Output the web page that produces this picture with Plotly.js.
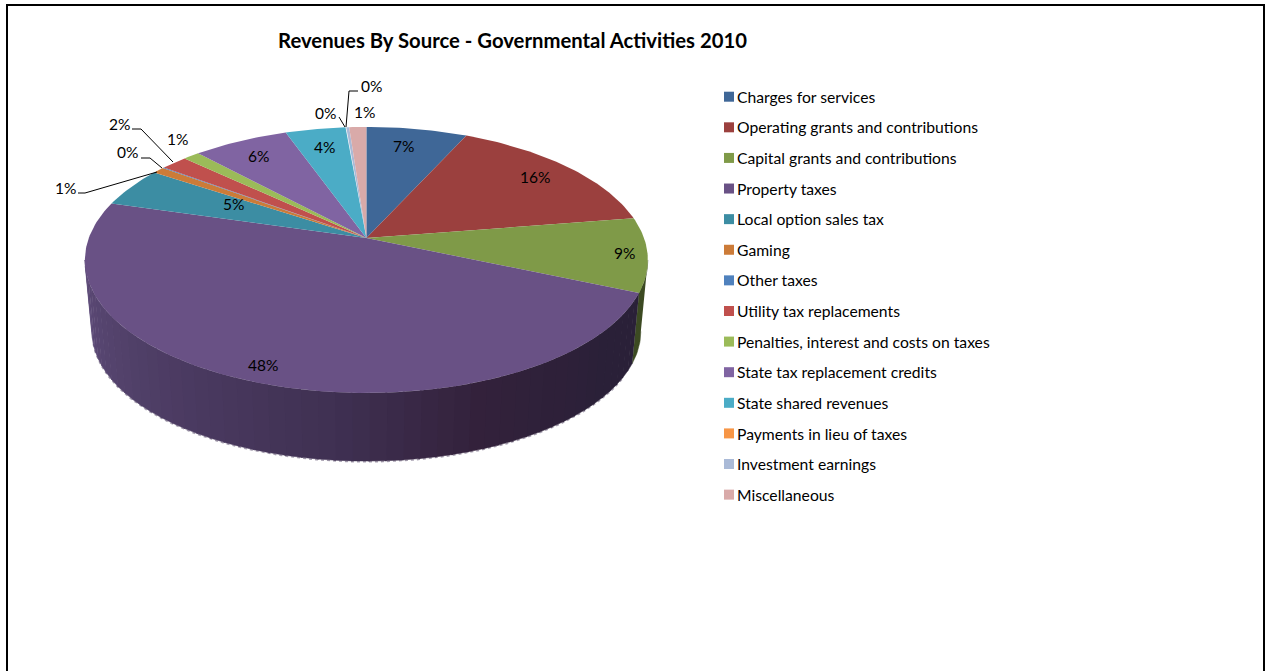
<!DOCTYPE html>
<html><head><meta charset="utf-8">
<script src="https://cdn.plot.ly/plotly-3.0.1.min.js"></script>
<style>html,body{margin:0;padding:0;background:#fff}#c{width:1265px;height:671px}</style>
</head><body><div id="c"></div>
<script>
const categories = ["Charges for services","Operating grants and contributions","Capital grants and contributions","Property taxes","Local option sales tax","Gaming","Other taxes","Utility tax replacements","Penalties, interest and costs on taxes","State tax replacement credits","State shared revenues","Payments in lieu of taxes","Investment earnings","Miscellaneous"];
const shares = [6.8,15.7,9.0,48.0,4.8,0.8,0.1,1.8,1.1,6.45,4.05,0.05,0.2,1.15];
const percentLabels = ["7%","16%","9%","48%","5%","1%","0%","2%","1%","6%","4%","0%","0%","1%"];
const sliceColors = ["#3f6797","#9b403e","#7f9a48","#695185","#3c8da3","#cc7b38","#4f81bd","#c0504d","#9bbb59","#8064a2","#4bacc6","#f79646","#aabad7","#d9aaa9"];
const labelPixels = [[403,146],[535,177],[624,253],[263,365],[233,204],[65,188],[127,152],[119,124],[177,139],[258,156],[324,147],[325,113],[371,86],[364,112]];
const leaders = [[[78,193],[85,193],[157,172]],[[141,158],[150,158],[162,168]],[[132,129],[141,129],[173,162]],[[339,117],[345,127]],[[358,91],[349,91],[346,127]]];
const W=1265,H=671,CX=366.4,CY=238,A=277.6,B=129.4,P=0.165,LOWER=0.975,DEPTH=72/129.4;
const rad=d=>d*Math.PI/180;
function topRim(t){const u=Math.sin(rad(t)),v=Math.cos(rad(t)),w=1+P*v;return [u/w,v/w];}
function lowRim(t){const p=topRim(t);return [p[0]*LOWER,p[1]*LOWER-DEPTH];}
function arc(f,a,b){const n=Math.max(1,Math.ceil(Math.abs(b-a)));const o=[];for(let i=0;i<=n;i++)o.push(f(a+(b-a)*i/n));return o;}
function hex(c){return [1,3,5].map(i=>parseInt(c.substr(i,2),16));}
const wallStops=[[115,"#2a2038"],[130,"#2a2038"],[160,"#33213b"],[185,"#3f3052"],[260.5,"#5d4b78"]];
function wallColor(t){for(let i=1;i<wallStops.length;i++){if(t<=wallStops[i][0]){const a=wallStops[i-1],b=wallStops[i],f=(t-a[0])/(b[0]-a[0]);const ca=hex(a[1]),cb=hex(b[1]);return "rgb("+ca.map((x,k)=>Math.round(x+(cb[k]-x)*f)).join(",")+")";}}return wallStops[wallStops.length-1][1];}
function poly(pts,color,name,lw){return {type:"scatter",mode:"lines",x:pts.map(p=>p[0]),y:pts.map(p=>p[1]),fill:"toself",fillcolor:color,line:{color:color,width:lw},hoverinfo:"skip",showlegend:false,name:name};}
const traces=[];
const total=shares.reduce((a,b)=>a+b,0);
let cum=0;const bounds=shares.map(s=>{const a=cum/total*360;cum+=s;return [a,cum/total*360];});
// base rim
const rim=arc(lowRim,120,256).map(p=>[p[0],p[1]-0.006]);
traces.push({type:"scatter",mode:"lines",x:rim.map(p=>p[0]),y:rim.map(p=>p[1]),line:{color:"#a9a2b2",width:1.5,dash:"3px,3px"},hoverinfo:"skip",showlegend:false});
// wall of the capital grants slice
const g=bounds[2],gs=Math.max(g[0],99.5);
traces.push(poly(arc(topRim,gs,g[1]).concat(arc(lowRim,g[1],gs)),"#3c4a22","wall",0.5));
// wall of the property taxes slice
const pb=bounds[3],pEnd=Math.min(pb[1],260.5);
for(let t=pb[0];t<pEnd;t+=3){const e=Math.min(t+3.3,pEnd);traces.push(poly(arc(topRim,t,e).concat(arc(lowRim,e,t)),wallColor(t+1.5),"wall",0.5));}
// top face
bounds.forEach((b,i)=>{traces.push(poly([[0,0]].concat(arc(topRim,b[0],b[1])).concat([[0,0]]),sliceColors[i],categories[i],0));});
// legend entries
categories.forEach((c,i)=>{traces.push({type:"scatter",mode:"markers",x:[null],y:[null],name:c,legendgroup:"g"+i,marker:{symbol:"square",size:10,color:sliceColors[i]},hoverinfo:"skip",showlegend:true});});
const px=x=>x/W,py=y=>1-y/H;
const annotations=percentLabels.map((t,i)=>({xref:"paper",yref:"paper",x:px(labelPixels[i][0]),y:py(labelPixels[i][1]),text:t,showarrow:false,xanchor:"center",yanchor:"middle",font:{family:"Lato, sans-serif",size:15.5,color:"#000"}}));
const lineCmds=leaders.map(l=>({type:"path",xref:"paper",yref:"paper",path:"M"+l.map(p=>px(p[0])+","+py(p[1])).join("L"),line:{color:"#000",width:1}}));
const frame=[[7,671,7,5],[6,5,1265,5],[1264,5,1264,671]].map(f=>({type:"line",xref:"paper",yref:"paper",x0:px(f[0]),y0:py(f[1]),x1:px(f[2]),y1:py(f[3]),line:{color:"#000",width:2}}));
const layout={width:W,height:H,margin:{l:0,r:0,t:0,b:0},paper_bgcolor:"#fff",plot_bgcolor:"#fff",
 title:{text:"<b>Revenues By Source - Governmental Activities 2010</b>",font:{family:"Lato, sans-serif",size:20.3,color:"#000"},x:512.5/W,xanchor:"center",y:1-41/H,yanchor:"middle"},
 xaxis:{range:[(0-CX)/A,(W-CX)/A],visible:false,fixedrange:true},
 yaxis:{range:[(CY-H)/B,CY/B],visible:false,fixedrange:true},
 legend:{x:697/W,y:1-80/H,xanchor:"left",yanchor:"top",tracegroupgap:7.2,itemwidth:30,font:{family:"Lato, sans-serif",size:15.7,color:"#000"},bgcolor:"rgba(0,0,0,0)",itemclick:false,itemdoubleclick:false},
 shapes:lineCmds.concat(frame),annotations:annotations,hovermode:false};
Plotly.newPlot("c",traces,layout,{displayModeBar:false,responsive:false}).then(()=>{
 document.querySelectorAll("#c .legend .legendsymbols").forEach(n=>n.setAttribute("transform","translate(12,0)"));
});
</script></body></html>
